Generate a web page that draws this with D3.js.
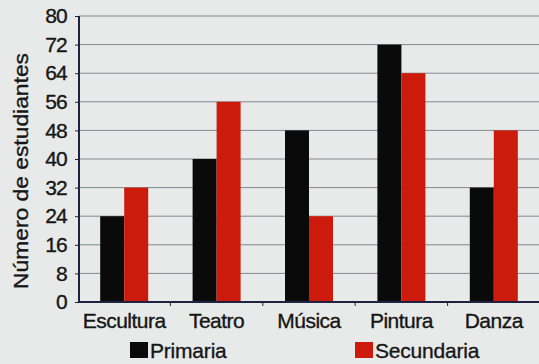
<!DOCTYPE html>
<html>
<head>
<meta charset="utf-8">
<script src="https://cdn.jsdelivr.net/npm/d3@7"></script>
<style>
  html, body { margin: 0; padding: 0; background: #e8eaea; }
  svg { display: block; }
  text { font-family: "Liberation Sans", Arial, sans-serif; fill: #161616; stroke: #161616; stroke-width: 0.35px; }
</style>
</head>
<body>
<svg id="chart" width="539" height="364"></svg>
<script>
// Students per arts activity, by school level
const categories = ["Escultura", "Teatro", "Música", "Pintura", "Danza"];
const primaria = [24, 40, 48, 72, 32];
const secundaria = [32, 56, 24, 64, 48];
const seriesNames = ["Primaria", "Secundaria"];
const yTicks = [0, 8, 16, 24, 32, 40, 48, 56, 64, 72, 80];

const colors = { Primaria: "#0a0a0a", Secundaria: "#cc1a0c" };
const svg = d3.select("#chart");
const W = 539;

const x = d3.scaleBand().domain(categories).range([78, 540]).paddingInner(0).paddingOuter(0);
const xs = d3.scaleBand().domain(seriesNames).range([0, x.bandwidth()]).paddingInner(0).paddingOuter(0.925);
const y = d3.scaleLinear().domain([0, 80]).range([302, 16]);

// horizontal gridlines
svg.append("g")
  .selectAll("line")
  .data(yTicks.filter(d => d > 0))
  .join("line")
  .attr("x1", 79).attr("x2", W)
  .attr("y1", d => y(d)).attr("y2", d => y(d))
  .attr("stroke", "#5d6a70").attr("stroke-width", 1).attr("opacity", 0.75);

// bars
const rows = categories.map((c, i) => ({ cat: c, values: [
  { key: "Primaria", v: primaria[i] },
  { key: "Secundaria", v: secundaria[i] }
]}));

const groups = svg.append("g").selectAll("g")
  .data(rows).join("g")
  .attr("transform", d => `translate(${x(d.cat)},0)`);

groups.selectAll("rect")
  .data(d => d.values).join("rect")
  .attr("x", d => xs(d.key))
  .attr("width", xs.bandwidth())
  .attr("y", d => y(d.v))
  .attr("height", d => y(0) - y(d.v))
  .attr("fill", d => colors[d.key]);

// y axis
const yAxis = svg.append("g")
  .attr("transform", "translate(79,0)")
  .call(d3.axisLeft(y).tickValues(yTicks).tickSize(4).tickPadding(8));
yAxis.select(".domain").attr("stroke", "#1e2440").attr("stroke-width", 2)
  .attr("d", `M0,${y(80)}V${y(0)}`);
yAxis.selectAll(".tick line").attr("stroke", "#1e2440");
yAxis.selectAll(".tick text")
  .attr("font-size", 21)
  .attr("letter-spacing", -0.8)
  .attr("fill", "#161616");

// x axis with ticks between categories
const xAxisG = svg.append("g").attr("transform", `translate(0,${y(0)})`);
xAxisG.append("line").attr("x1", 78).attr("x2", W)
  .attr("stroke", "#1e2440").attr("stroke-width", 2);
xAxisG.selectAll("line.sep")
  .data(categories.slice(1)).join("line")
  .attr("class", "sep")
  .attr("x1", d => x(d)).attr("x2", d => x(d))
  .attr("y1", 0).attr("y2", 4)
  .attr("stroke", "#1e2440");
xAxisG.selectAll("text")
  .data(categories).join("text")
  .attr("x", d => x(d) + x.bandwidth() / 2)
  .attr("y", 26)
  .attr("text-anchor", "middle")
  .attr("font-size", 21)
  .attr("letter-spacing", -0.5)
  .text(d => d);

// y title
svg.append("text")
  .attr("transform", "translate(28,171) rotate(-90)")
  .attr("text-anchor", "middle")
  .attr("font-size", 21)
  .attr("textLength", 236)
  .attr("lengthAdjust", "spacingAndGlyphs")
  .text("Número de estudiantes");

// legend
const legendPos = [130, 355];
const lg = svg.append("g").selectAll("g")
  .data(seriesNames).join("g")
  .attr("transform", (d, i) => `translate(${legendPos[i]},342)`);
lg.append("rect").attr("width", 18).attr("height", 16).attr("fill", d => colors[d]);
lg.append("text")
  .attr("x", 20).attr("y", 16)
  .attr("font-size", 21)
  .attr("letter-spacing", -0.2)
  .text(d => d);
</script>
</body>
</html>
